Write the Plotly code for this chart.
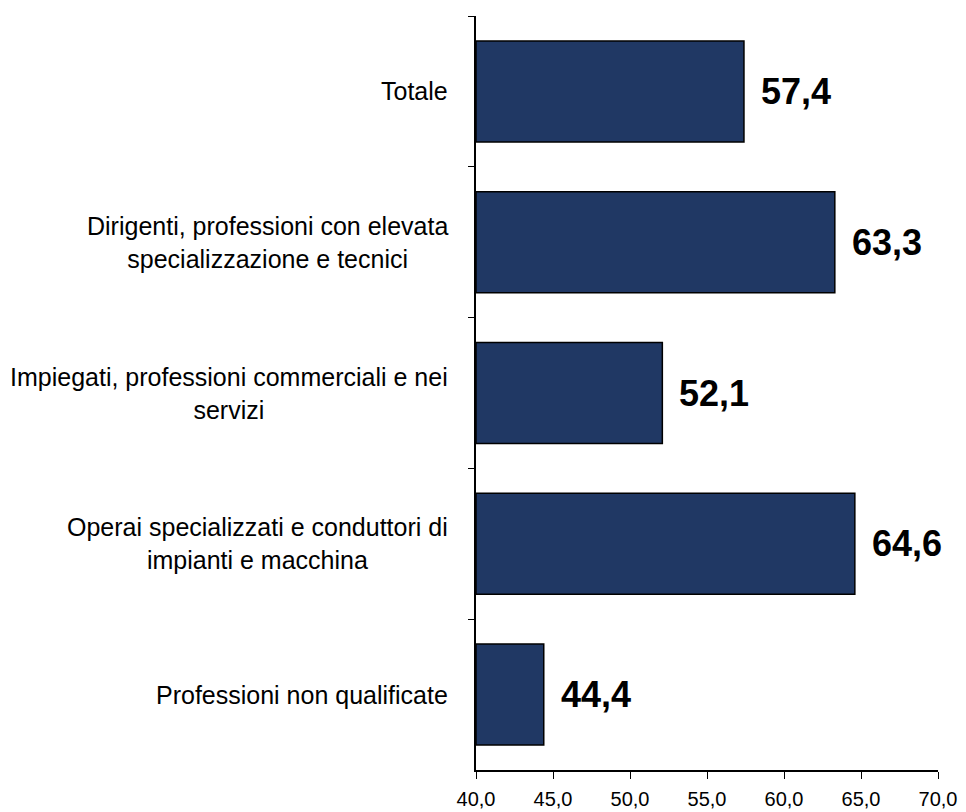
import plotly.graph_objects as go

# categories top to bottom
categories = [
    "Totale",
    "Dirigenti, professioni con elevata<br>specializzazione e tecnici",
    "Impiegati, professioni commerciali e nei<br>servizi",
    "Operai specializzati e conduttori di<br>impianti e macchina",
    "Professioni non qualificate",
]
values = [57.4, 63.3, 52.1, 64.6, 44.4]
value_labels = ["57,4", "63,3", "52,1", "64,6", "44,4"]

BASE = 40
FONT = "Liberation Sans, Arial, sans-serif"
BAR = "#203864"

fig = go.Figure(go.Bar(
    x=[v - BASE for v in values], y=categories, orientation="h",
    base=BASE, marker=dict(color=BAR, line=dict(color="black", width=1.5)),
    width=0.67, hoverinfo="skip",
))

for cat, v, lab in zip(categories, values, value_labels):
    fig.add_annotation(x=v, y=cat, text="<b>%s</b>" % lab, showarrow=False,
                       xanchor="left", xshift=15,
                       font=dict(family=FONT, size=36, color="black"))
    fig.add_annotation(x=0, xref="paper", y=cat, text=cat, showarrow=False,
                       xanchor="right", align="center", xshift=-26,
                       font=dict(family=FONT, size=25, color="black"))

# page body has an 8px margin, so the figure is a bit smaller than the window
fig.update_layout(
    width=958, height=804, plot_bgcolor="white", paper_bgcolor="white",
    margin=dict(l=468, r=28, t=8, b=42),
    separators=",.", showlegend=False,
    font=dict(family=FONT, color="black"),
)
fig.update_xaxes(range=[40, 70], tick0=40, dtick=5, tickformat=".1f",
                 showgrid=False, zeroline=False, showline=True, linecolor="black",
                 linewidth=1.5, ticks="outside", ticklen=7, tickcolor="black",
                 ticklabelstandoff=3,
                 tickfont=dict(family=FONT, size=20), automargin=False)
fig.update_yaxes(autorange="reversed", showgrid=False, showline=True,
                 linecolor="black", linewidth=1.5, ticks="outside", ticklen=6,
                 tickson="boundaries", tickcolor="black", showticklabels=False,
                 automargin=False)

fig.write_html("out.html")
